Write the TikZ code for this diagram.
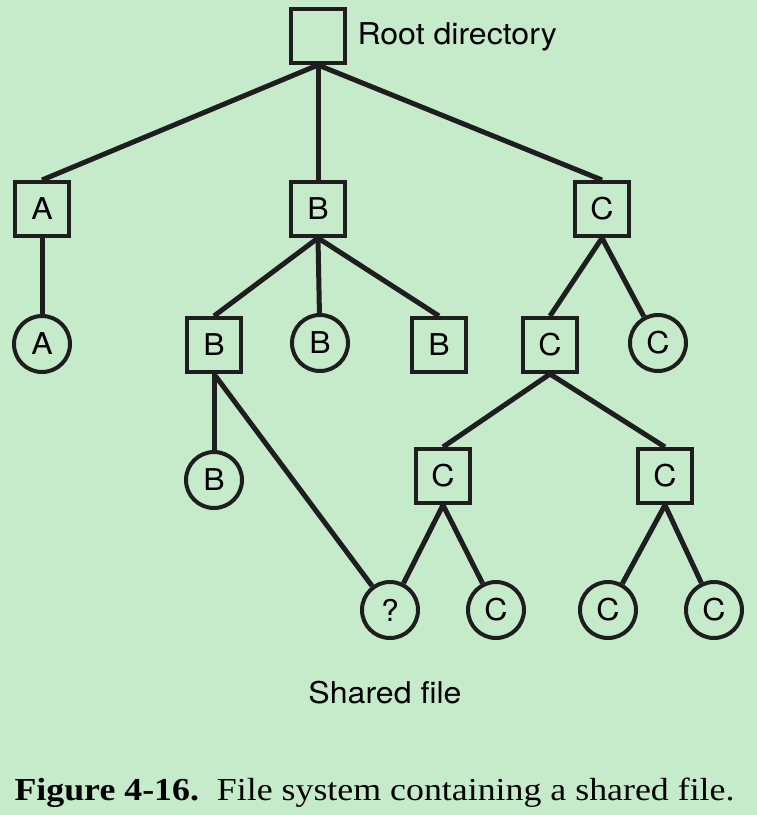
\documentclass[tikz,border=0pt]{standalone}
\usepackage{fontspec}
\setmainfont[FakeStretch=1.12]{Liberation Serif}
\setsansfont[FakeStretch=1.07]{TeX Gyre Heros}
\usetikzlibrary{positioning}
\definecolor{bg}{HTML}{C6EBCB}
\definecolor{ink}{HTML}{1E1E1E}
\newcommand{\lbl}{\sffamily\fontsize{30}{30}\selectfont}
\tikzset{
  dir/.style={draw=ink, line width=4pt, minimum size=54pt, inner sep=0pt, font=\lbl},
  fil/.style={dir, circle, minimum size=56pt},
  link/.style={draw=ink, line width=5pt}
}

\begin{document}
\begin{tikzpicture}[x=1pt, y=-1pt]
  \fill[bg] (0,0) rectangle (757,815);
  \useasboundingbox (0,0) rectangle (757,815);

  % directories
  \node[dir] (root) at (318,36) {};
  \node[anchor=west, font=\lbl] (rootlbl) at (354,37) {Root directory};
  \node[dir] (dA) at (42,209) {A};
  \node[dir] (dB) at (318,209) {B};
  \node[dir] (dC) at (602,209) {C};
  \node[dir] (dBB) at (214,345) {B};
  \node[dir] (dBr) at (439,345) {B};
  \node[dir] (dCC) at (550,345) {C};
  \node[dir] (dCl) at (443,476) {C};
  \node[dir] (dCr) at (665,476) {C};

  % files
  \node[fil] (fA) at (42,344) {A};
  \node[fil] (fB) at (320,343) {B};
  \node[fil] (fC) at (658,343) {C};
  \node[fil] (fBB) at (214,480) {B};
  \node[fil] (shared) at (390,610) {?};
  \node[fil] (fCl) at (496,610) {C};
  \node[fil] (fCm) at (608,610) {C};
  \node[fil] (fCr) at (714,610) {C};

  \node[font=\lbl] (sharedlbl) at (385,693) {Shared file};

  % links
  \draw[link] (root.south) -- (dA.north);
  \draw[link] (root.south) -- (dB.north);
  \draw[link] (root.south) -- (dC.north);
  \draw[link] (dA.south) -- (fA);
  \draw[link] (dB.south) -- (dBB.north);
  \draw[link] (dB.south) -- (fB);
  \draw[link] (dB.south) -- (dBr.north);
  \draw[link] (dC.south) -- (dCC.north);
  \draw[link] (dC.south) -- (fC);
  \draw[link] (dBB.south) -- (fBB);
  \draw[link] (dBB.south) -- (shared);
  \draw[link] (dCC.south) -- (dCl.north);
  \draw[link] (dCC.south) -- (dCr.north);
  \draw[link] (dCl.south) -- (shared);
  \draw[link] (dCl.south) -- (fCl);
  \draw[link] (dCr.south) -- (fCm);
  \draw[link] (dCr.south) -- (fCr);

  \node[anchor=base west, font=\fontsize{32}{32}\selectfont] (caption) at (11,800)
    {\textbf{Figure 4-16.}\ \ File system containing a shared file.};
\end{tikzpicture}
\end{document}
